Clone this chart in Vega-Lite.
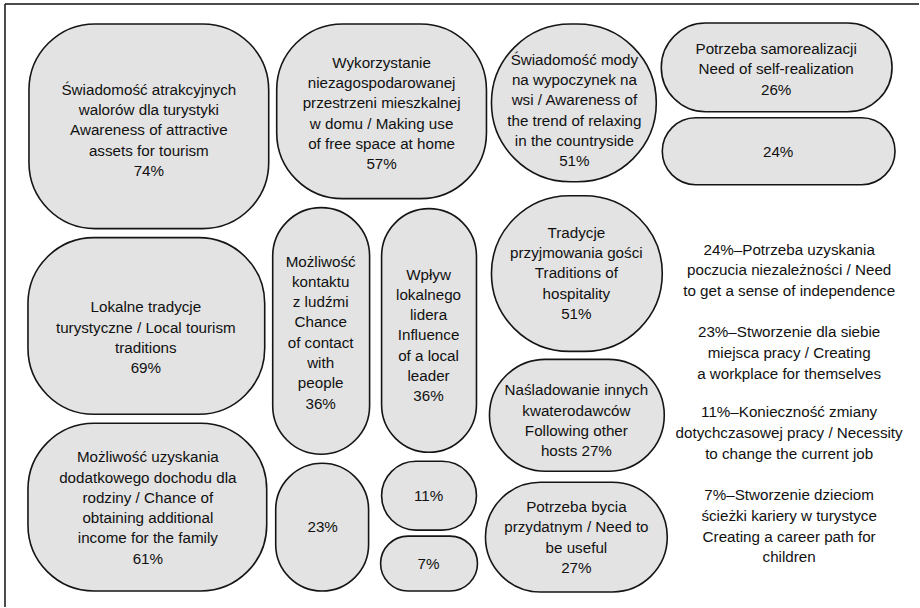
{
  "$schema": "https://vega.github.io/schema/vega-lite/v6.json",
  "width": 920,
  "height": 608,
  "autosize": {"type": "fit", "contains": "padding"},
  "padding": 0,
  "background": "white",
  "config": {"view": {"stroke": null}},
  "datasets": {
    "boxes": [
      {"kind": "rounded", "x0": 29, "x1": 269, "y0": 24, "y1": 229, "tx": 149, "ty": 90, "label": ["Świadomość atrakcyjnych", "walorów dla turystyki", "Awareness of attractive", "assets for tourism", "74%"]},
      {"kind": "rounded", "x0": 277, "x1": 487, "y0": 24, "y1": 199, "tx": 382, "ty": 63, "label": ["Wykorzystanie", "niezagospodarowanej", "przestrzeni mieszkalnej", "w domu / Making use", "of free space at home", "57%"]},
      {"kind": "pill", "x0": 492, "x1": 657, "y0": 24, "y1": 182, "tx": 575, "ty": 60, "label": ["Świadomość mody", "na wypoczynek na", "wsi / Awareness of", "the trend of relaxing", "in the countryside", "51%"]},
      {"kind": "pill", "x0": 662, "x1": 893, "y0": 23, "y1": 112, "tx": 777, "ty": 49, "label": ["Potrzeba samorealizacji", "Need of self-realization", "26%"]},
      {"kind": "pill", "x0": 663, "x1": 896, "y0": 118, "y1": 185, "tx": 779, "ty": 152, "label": ["24%"]},
      {"kind": "rounded", "x0": 28, "x1": 265, "y0": 238, "y1": 415, "tx": 146, "ty": 308, "label": ["Lokalne tradycje", "turystyczne / Local tourism", "traditions", "69%"]},
      {"kind": "pill", "x0": 273, "x1": 370, "y0": 208, "y1": 455, "tx": 321, "ty": 262, "label": ["Możliwość", "kontaktu", "z ludźmi", " Chance", "of contact", "with", "people", "36%"]},
      {"kind": "pill", "x0": 382, "x1": 477, "y0": 209, "y1": 453, "tx": 429, "ty": 275, "label": ["Wpływ", "lokalnego", "lidera", "Influence", "of a local", "leader", "36%"]},
      {"kind": "pill", "x0": 492, "x1": 663, "y0": 196, "y1": 352, "tx": 577, "ty": 233, "label": ["Tradycje", "przyjmowania gości", "Traditions of", "hospitality", "51%"]},
      {"kind": "pill", "x0": 490, "x1": 665, "y0": 360, "y1": 472, "tx": 577, "ty": 391, "label": ["Naśladowanie innych", "kwaterodawców", "Following other", "hosts 27%"]},
      {"kind": "pill", "x0": 486, "x1": 668, "y0": 483, "y1": 593, "tx": 577, "ty": 508, "label": ["Potrzeba bycia", "przydatnym / Need to", "be useful", "27%"]},
      {"kind": "rounded", "x0": 28, "x1": 267, "y0": 424, "y1": 592, "tx": 148, "ty": 458, "label": ["Możliwość uzyskania", "dodatkowego dochodu dla", "rodziny / Chance of", "obtaining additional", "income for the family", "61%"]},
      {"kind": "pill", "x0": 276, "x1": 369, "y0": 464, "y1": 592, "tx": 323, "ty": 528, "label": ["23%"]},
      {"kind": "pill", "x0": 382, "x1": 477, "y0": 462, "y1": 531, "tx": 429, "ty": 497, "label": ["11%"]},
      {"kind": "pill", "x0": 381, "x1": 478, "y0": 537, "y1": 592, "tx": 429, "ty": 565, "label": ["7%"]}
    ],
    "notes": [
      {"tx": 790, "ty": 250, "label": ["24%–Potrzeba uzyskania", "poczucia niezależności / Need", "to get a sense of independence"]},
      {"tx": 790, "ty": 333, "label": ["23%–Stworzenie dla siebie", "miejsca pracy / Creating", "a workplace for themselves"]},
      {"tx": 790, "ty": 413, "label": ["11%–Konieczność zmiany", "dotychczasowej pracy / Necessity", "to change the current job"]},
      {"tx": 790, "ty": 496, "label": ["7%–Stworzenie dzieciom", "ścieżki kariery w turystyce", "Creating a career path for", "children"]}
    ],
    "frame": [
      {"x0": 5, "x1": 920, "y0": 4, "y1": 4},
      {"x0": 5, "x1": 5, "y0": 4, "y1": 608}
    ]
  },
  "layer": [
    {
      "data": {"name": "frame"},
      "mark": {"type": "rule", "color": "#111111", "strokeWidth": 1.5},
      "encoding": {
        "x": {"field": "x0", "type": "quantitative", "scale": {"domain": [0, 920], "nice": false, "zero": false}, "axis": null},
        "x2": {"field": "x1"},
        "y": {"field": "y0", "type": "quantitative", "scale": {"domain": [0, 608], "nice": false, "zero": false, "reverse": true}, "axis": null},
        "y2": {"field": "y1"}
      }
    },
    {
      "data": {"name": "boxes"},
      "transform": [{"filter": "datum.kind === 'rounded'"}],
      "mark": {"type": "rect", "fill": "#e3e3e3", "stroke": "#151515", "strokeWidth": 1.6, "cornerRadius": 66},
      "encoding": {
        "x": {"field": "x0", "type": "quantitative"},
        "x2": {"field": "x1"},
        "y": {"field": "y0", "type": "quantitative"},
        "y2": {"field": "y1"}
      }
    },
    {
      "data": {"name": "boxes"},
      "transform": [{"filter": "datum.kind === 'pill'"}],
      "mark": {"type": "rect", "fill": "#e3e3e3", "stroke": "#151515", "strokeWidth": 1.6, "cornerRadius": 999},
      "encoding": {
        "x": {"field": "x0", "type": "quantitative"},
        "x2": {"field": "x1"},
        "y": {"field": "y0", "type": "quantitative"},
        "y2": {"field": "y1"}
      }
    },
    {
      "data": {"name": "boxes"},
      "mark": {"type": "text", "font": "Liberation Sans", "fontSize": 15.2, "lineHeight": 20.3, "align": "center", "baseline": "middle", "color": "#111111"},
      "encoding": {
        "x": {"field": "tx", "type": "quantitative"},
        "y": {"field": "ty", "type": "quantitative"},
        "text": {"field": "label"}
      }
    },
    {
      "data": {"name": "notes"},
      "mark": {"type": "text", "font": "Liberation Sans", "fontSize": 15.2, "lineHeight": 20.7, "align": "center", "baseline": "middle", "color": "#111111"},
      "encoding": {
        "x": {"field": "tx", "type": "quantitative"},
        "y": {"field": "ty", "type": "quantitative"},
        "text": {"field": "label"}
      }
    }
  ]
}
